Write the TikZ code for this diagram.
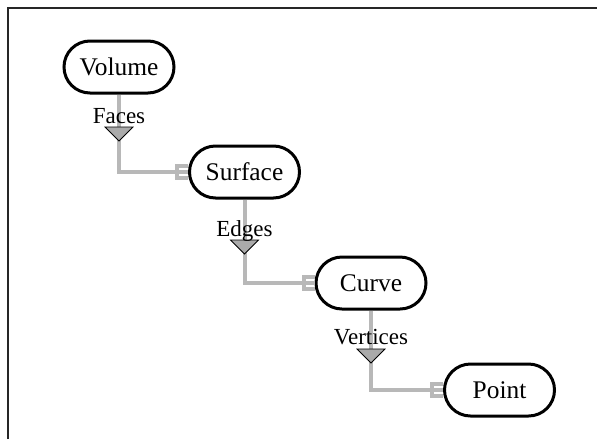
\documentclass[tikz,border=0pt]{standalone}
\usepackage{fontspec}
\setmainfont{Liberation Serif}
\definecolor{conn}{HTML}{B8B8B8}
\definecolor{trifill}{HTML}{AAAAAA}
\tikzset{
  entity/.style={draw=black, line width=1.5pt, rounded corners=13pt,
    minimum width=55pt, minimum height=26pt, inner sep=0pt,
    font=\fontsize{12.7}{14}\selectfont},
  rel/.style={font=\fontsize{11.5}{13}\selectfont, inner sep=0pt, anchor=base},
  connline/.style={draw=conn, line width=2pt},
  trimark/.style={fill=trifill, draw=black, line width=0.4pt, line join=miter},
}
\newcommand{\trimark}[1]{%
  \path[trimark] ($(#1)+(-14,0)$) -- ($(#1)+(14,0)$) -- ($(#1)+(0,14)$) -- cycle;}
\newcommand{\combend}[1]{%
  \draw[connline, line join=miter] ($(#1)+(0,-6)$) -- ($(#1)+(-11,-6)$) -- ($(#1)+(-11,6)$) -- ($(#1)+(0,6)$);
  \draw[connline] ($(#1)+(-11,0)$) -- (#1);}
\usetikzlibrary{calc}
\begin{document}
\begin{tikzpicture}[x=0.5pt,y=-0.5pt]
\useasboundingbox (0,0) rectangle (597,439);
\draw[line width=0.6pt, black!85] (8,439) -- (8,8) -- (597,8);

\node[entity] (vol) at (119,67) {Volume};
\node[entity] (surf) at (244.5,172) {Surface};
\node[entity] (curv) at (371,283) {Curve};
\node[entity] (pnt) at (499.5,390) {Point};

% Faces
\coordinate (t1) at (vol.south |- 0,127);
\draw[connline] (vol.south) |- ($(surf.west)+(-11,0)$);
\combend{surf.west}
\trimark{t1}
\node[rel] (l1) at (vol.south |- 0,123) {Faces};

% Edges
\coordinate (t2) at (surf.south |- 0,240);
\draw[connline] (surf.south) |- ($(curv.west)+(-11,0)$);
\combend{curv.west}
\trimark{t2}
\node[rel] (l2) at (surf.south |- 0,236) {Edges};

% Vertices
\coordinate (t3) at (curv.south |- 0,349);
\draw[connline] (curv.south) |- ($(pnt.west)+(-11,0)$);
\combend{pnt.west}
\trimark{t3}
\node[rel] (l3) at (curv.south |- 0,344) {Vertices};
\end{tikzpicture}
\end{document}
